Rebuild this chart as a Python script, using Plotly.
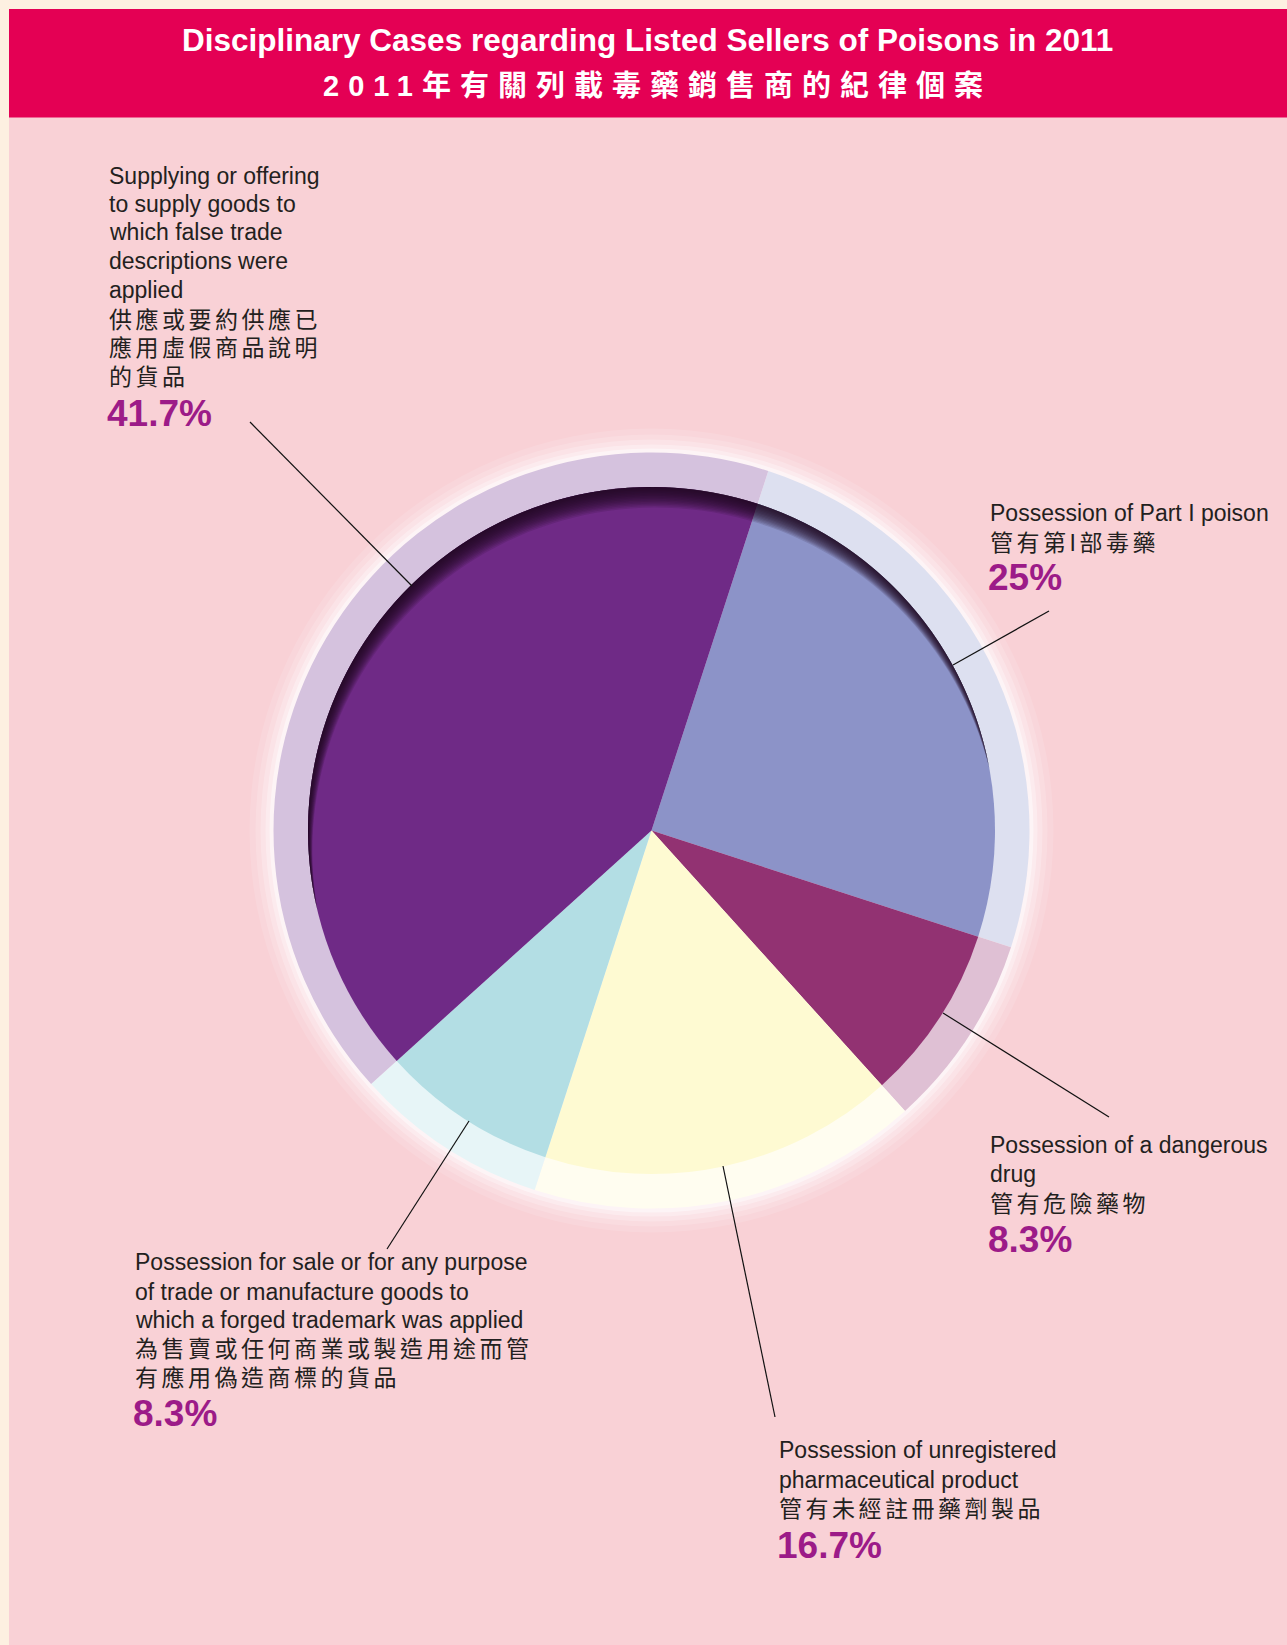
"""2011年有關列載毒藥銷售商的紀律個案 — Plotly 圓餅圖重製."""

import math

import plotly.graph_objects as go

W, H = 1287, 1645

# 資料
categories = [
    "Possession of Part I poison",
    "Possession of a dangerous drug",
    "Possession of unregistered pharmaceutical product",
    "Possession for sale ... forged trademark",
    "Supplying or offering to supply goods with false trade descriptions",
]
shares = [25, 8.3, 16.7, 8.3, 41.7]
pct_labels = ["25%", "8.3%", "16.7%", "8.3%", "41.7%"]

label_lines = [
    ["Possession of Part I poison", "管有第I部毒藥"],
    ["Possession of a dangerous", "drug", "管有危險藥物"],
    ["Possession of unregistered", "pharmaceutical product", "管有未經註冊藥劑製品"],
    ["Possession for sale or for any purpose",
     "of trade or manufacture goods to",
     "which a forged trademark was applied",
     "為售賣或任何商業或製造用途而管",
     "有應用偽造商標的貨品"],
    ["Supplying or offering", "to supply goods to", "which false trade",
     "descriptions were", "applied", "供應或要約供應已", "應用虛假商品說明",
     "的貨品"],
]

title_en = "Disciplinary Cases regarding Listed Sellers of Poisons in 2011"
title_zh = "2011年有關列載毒藥銷售商的紀律個案"

# 樣式
inner_colors = ["#8c93c8", "#923272", "#fefad2", "#b3dee4", "#6f2a86"]
ring_colors = ["#dde0f0", "#dfc0d4", "#fffdf0", "#e7f5f7", "#d5c2de"]
BG = "#f9d1d6"
CREAM = "#fdf0e1"
PCT_COLOR = "#9c1b88"
TXT = "#231f20"
FONT = "Liberation Sans, Noto Sans CJK TC, sans-serif"

CX, CY = 651.5, 830.5
R_IN, R_OUT = 343.5, 378

# label blocks: x, line centres, percentage centre
label_x = [988, 988, 777, 133, 107]
line_y = [
    [513, 543],
    [1145, 1174, 1204],
    [1450, 1480, 1509],
    [1262, 1292, 1320, 1349, 1378],
    [176, 204, 232, 261, 290, 320, 348, 377],
]
pct_y = [577, 1239, 1545, 1413, 413]
leaders = [
    ((1049, 611), (953, 665)),
    ((1109, 1117), (943, 1013)),
    ((775, 1417), (723, 1166)),
    ((387, 1249), (469, 1121)),
    ((250, 422), (412, 586)),
]


def px(x):
    return x / W


def py(y):
    return 1 - y / H


def domain(r):
    return dict(x=[px(CX - r), px(CX + r)], y=[py(CY + r), py(CY - r)])


fig = go.Figure()

for r, colors in [(R_OUT, ring_colors), (R_IN, inner_colors)]:
    fig.add_trace(
        go.Pie(
            values=shares,
            labels=categories,
            sort=False,
            direction="clockwise",
            rotation=18,
            marker=dict(colors=colors, line=dict(width=0)),
            textinfo="none",
            hoverinfo="label+percent",
            showlegend=False,
            domain=domain(r),
        )
    )

shapes = [
    dict(type="rect", xref="paper", yref="paper", x0=px(9), x1=1, y0=0,
         y1=py(9), fillcolor=BG, line_width=0, layer="below"),
    dict(type="rect", xref="paper", yref="paper", x0=px(9), x1=1,
         y0=py(117.5), y1=py(9), fillcolor="#e40054", line_width=0,
         layer="below"),
]

# 外圈白色光暈
for d, op in [(24, 0.12), (18, 0.16), (13, 0.22), (8, 0.3), (4, 0.45)]:
    r = R_OUT + d
    shapes.append(dict(type="circle", xref="paper", yref="paper",
                       x0=px(CX - r), x1=px(CX + r), y0=py(CY + r),
                       y1=py(CY - r), fillcolor="white", opacity=op,
                       line_width=0, layer="below"))


def pt(cx, cy, r, deg):
    a = math.radians(deg)
    return f"{px(cx + r * math.sin(a)):.5f},{py(cy - r * math.cos(a)):.5f}"


def crescent(d, phi, n=90):
    """內陰影：圓內減去向反方向平移 d 的同半徑圓."""
    ux, uy = math.sin(math.radians(phi)), -math.cos(math.radians(phi))
    cx2, cy2 = CX - d * ux, CY - d * uy
    s = math.degrees(math.asin(d / (2 * R_IN)))
    alpha, beta = 90 + s, 90 - s
    pts = [pt(CX, CY, R_IN, phi - alpha + 2 * alpha * i / n) for i in range(n + 1)]
    pts += [pt(cx2, cy2, R_IN, phi + beta - 2 * beta * i / n) for i in range(n + 1)]
    return "M" + " L".join(pts) + " Z"


for i in range(14):
    d = 1.5 * (i + 1)
    shapes.append(dict(type="path", xref="paper", yref="paper",
                       path=crescent(d, -12), fillcolor="#1c0a22",
                       opacity=0.13, line_width=0, layer="above"))

for (x0, y0), (x1, y1) in leaders:
    shapes.append(dict(type="line", xref="paper", yref="paper",
                       x0=px(x0), y0=py(y0), x1=px(x1), y1=py(y1),
                       line=dict(color="#111111", width=1.2), layer="above"))

annotations = [
    dict(text=f"<b>{title_en}</b>", x=px(647), y=py(40), font=dict(
        size=31.5, color="white", family=FONT)),
    dict(text=f'<b><span style="letter-spacing:9px">{title_zh}</span></b>',
         x=px(657), y=py(86), font=dict(size=29, color="white", family=FONT)),
]

for lines, lx, ys, p, pyy in zip(label_lines, label_x, line_y, pct_labels, pct_y):
    for line, yy in zip(lines, ys):
        is_cjk = any(ord(c) > 0x2E80 for c in line)
        txt = f'<span style="letter-spacing:3.5px">{line}</span>' if is_cjk else line
        annotations.append(dict(text=txt, x=px(lx), y=py(yy), xanchor="left",
                                font=dict(size=23, color=TXT, family=FONT)))
    annotations.append(dict(text=f"<b>{p}</b>", x=px(lx - 2), y=py(pyy),
                            xanchor="left",
                            font=dict(size=37, color=PCT_COLOR, family=FONT)))

for a in annotations:
    a.update(xref="paper", yref="paper", showarrow=False, yanchor="middle")

fig.update_layout(
    width=W,
    height=H,
    margin=dict(l=0, r=0, t=0, b=0),
    paper_bgcolor=CREAM,
    plot_bgcolor=CREAM,
    shapes=shapes,
    annotations=annotations,
)

fig.write_html(
    "out.html",
    config={"displayModeBar": False},
    post_script=(
        "document.body.style.margin='0';"
        f"document.body.style.background='{CREAM}';"
    ),
)
